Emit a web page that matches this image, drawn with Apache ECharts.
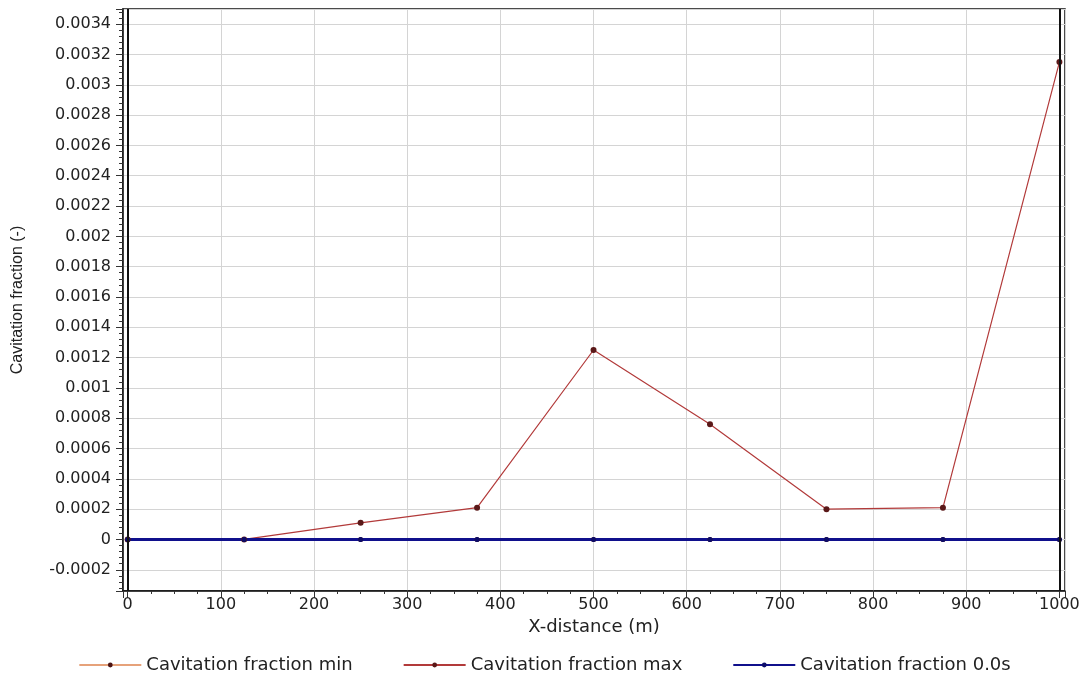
<!DOCTYPE html>
<html>
<head>
<meta charset="utf-8">
<script src="https://cdn.jsdelivr.net/npm/echarts@6/dist/echarts.min.js"></script>
<style>
  html, body { margin: 0; padding: 0; background: #ffffff; }
  #chart { width: 1089px; height: 679px; }
</style>
</head>
<body>
<div id="chart"></div>
<script>
// Distance along the pipe (m) at each computational section
const xDistance = [0, 125, 250, 375, 500, 625, 750, 875, 1000];
// Cavitation fraction envelope and initial state (-)
const cavitationMin = [0, 0, 0, 0, 0, 0, 0, 0, 0];
const cavitationMax = [0, 0, 0.00011, 0.00021, 0.00125, 0.00076, 0.0002, 0.00021, 0.00315];
const cavitation0s = [0, 0, 0, 0, 0, 0, 0, 0, 0];
// Pipe end positions (m)
const pipeEnds = [0, 1000];

const seriesNames = ['Cavitation fraction min', 'Cavitation fraction max', 'Cavitation fraction 0.0s'];

const pairs = (ys) => xDistance.map((x, i) => [x, ys[i]]);
// plain numbers, no thousands separators
const plain = (v) => String(v);

const tickFont = { fontFamily: 'DejaVu Sans', fontSize: 16, color: '#222' };

const chart = echarts.init(document.getElementById('chart'));
chart.setOption({
  animation: false,
  backgroundColor: '#ffffff',
  grid: {
    left: 123, right: 24, top: 9, bottom: 88,
    show: true, borderColor: '#111', borderWidth: 1.5
  },
  legend: {
    data: seriesNames,
    left: 'center',
    top: 651,
    itemWidth: 62,
    itemHeight: 6,
    itemGap: 50,
    textStyle: { fontFamily: 'DejaVu Sans', fontSize: 18, color: '#222' }
  },
  xAxis: {
    type: 'value',
    min: -5,
    max: 1006,
    splitNumber: 10,
    name: 'X-distance (m)',
    nameLocation: 'middle',
    nameGap: 21,
    nameTextStyle: { fontFamily: 'DejaVu Sans', fontSize: 18, color: '#222' },
    axisLine: { show: true, onZero: false, lineStyle: { color: '#111', width: 1.5 } },
    axisTick: { show: true, length: 7, lineStyle: { color: '#333' } },
    minorTick: { show: true, splitNumber: 4, length: 3, lineStyle: { color: '#333' } },
    axisLabel: Object.assign({ margin: 6, showMinLabel: false, showMaxLabel: false, formatter: plain }, tickFont),
    splitLine: { show: true, lineStyle: { color: '#d4d4d4', width: 1 } }
  },
  yAxis: {
    type: 'value',
    min: -0.00034,
    max: 0.0035,
    splitNumber: 19,
    name: 'Cavitation fraction (-)',
    nameLocation: 'middle',
    nameGap: 97,
    nameTextStyle: { fontFamily: 'Liberation Sans', fontSize: 16, color: '#222' },
    axisLine: { show: true, onZero: false, lineStyle: { color: '#111', width: 1.5 } },
    axisTick: { show: true, length: 7, lineStyle: { color: '#333' } },
    minorTick: { show: true, splitNumber: 5, length: 4, lineStyle: { color: '#333' } },
    axisLabel: Object.assign({ margin: 12, showMinLabel: false, showMaxLabel: false, formatter: plain }, tickFont),
    splitLine: { show: true, lineStyle: { color: '#d4d4d4', width: 1 } }
  },
  series: [
    {
      name: seriesNames[0],
      type: 'line',
      data: pairs(cavitationMin),
      symbol: 'circle',
      symbolSize: 5,
      lineStyle: { color: '#e6a27a', width: 1.2 },
      itemStyle: { color: '#4a1414' }
    },
    {
      name: seriesNames[1],
      type: 'line',
      data: pairs(cavitationMax),
      symbol: 'circle',
      symbolSize: 6,
      lineStyle: { color: '#b23a3a', width: 1.2 },
      itemStyle: { color: '#5a1818' }
    },
    {
      name: seriesNames[2],
      type: 'line',
      data: pairs(cavitation0s),
      symbol: 'circle',
      symbolSize: 5,
      lineStyle: { color: '#10108c', width: 3 },
      itemStyle: { color: '#0c0c6a' },
      markLine: {
        silent: true,
        symbol: ['none', 'none'],
        label: { show: false },
        lineStyle: { color: '#111', width: 2, type: 'solid' },
        data: pipeEnds.map(v => ({ xAxis: v }))
      }
    }
  ]
});
</script>
</body>
</html>
